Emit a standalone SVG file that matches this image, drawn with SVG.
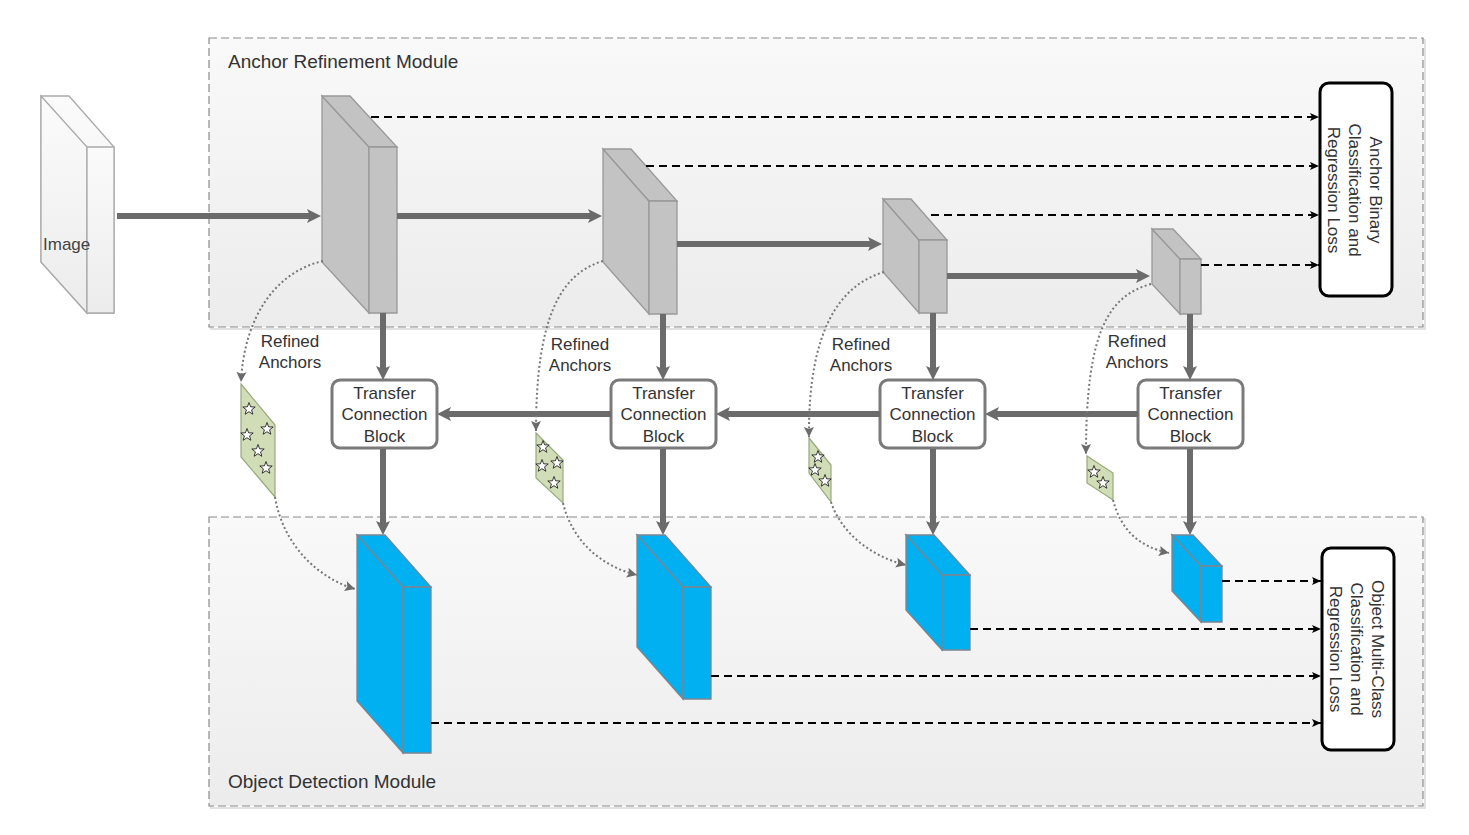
<svg xmlns="http://www.w3.org/2000/svg" width="1469" height="835" viewBox="0 0 1469 835">
<style>
text{font-family:"Liberation Sans",Arial,sans-serif;fill:#333}
.lbl{font-size:17px;text-anchor:middle}
.mod{font-size:19px}
.modbox{fill:url(#modg);stroke:#8a8a8a;stroke-width:1.2;stroke-dasharray:8 4}
.modshadow{fill:none;stroke:#e2e2e2;stroke-width:2}
.gray{fill:#c3c3c3;stroke:#999;stroke-width:1.3}
.blue{fill:#00b0f0;stroke:#7a8590;stroke-width:1.3}
.img{fill:url(#imgg);stroke:#aaa;stroke-width:1.3}
.tcb{fill:#fff;stroke:#7a7a7a;stroke-width:3}
.loss{fill:#fff;stroke:#000;stroke-width:3}
.anc{fill:#d0ddb6;stroke:#98a87e;stroke-width:1.2}
.star{fill:#fff;stroke:#222;stroke-width:0.9}
.thick{stroke:#6b6b6b;stroke-width:6;fill:none;marker-end:url(#ah)}
.dash{stroke:#000;stroke-width:2;stroke-dasharray:8 5;fill:none;marker-end:url(#ad)}
.dot{stroke:#777;stroke-width:2;stroke-dasharray:2 2.5;fill:none;marker-end:url(#ao)}
</style>
<defs>
<linearGradient id="modg" x1="0" y1="0" x2="0" y2="1"><stop offset="0" stop-color="#f9f9f9"/><stop offset="1" stop-color="#ececec"/></linearGradient>
<linearGradient id="imgg" x1="0" y1="0" x2="0" y2="1"><stop offset="0" stop-color="#fbfbfb"/><stop offset="1" stop-color="#ececec"/></linearGradient>
<marker id="ah" markerUnits="userSpaceOnUse" markerWidth="20" markerHeight="20" viewBox="0 0 20 20" refX="6" refY="10" orient="auto"><path d="M2,3 L16,10 L2,17 L5,10 Z" fill="#6b6b6b"/></marker>
<marker id="ad" markerUnits="userSpaceOnUse" markerWidth="12" markerHeight="12" viewBox="0 0 12 12" refX="10" refY="6" orient="auto"><path d="M1,2 L10,6 L1,10 L3,6 Z" fill="#000"/></marker>
<marker id="ao" markerUnits="userSpaceOnUse" markerWidth="14" markerHeight="14" viewBox="0 0 14 14" refX="12" refY="7" orient="auto"><path d="M2,2 L12,7 L2,12 L4,7 Z" fill="#6b6b6b"/></marker>
<path id="st" class="star" d="M0,-6.5 L1.6,-2.2 L6.2,-2 L2.6,0.85 L3.8,5.25 L0,2.7 L-3.8,5.25 L-2.6,0.85 L-6.2,-2 L-1.6,-2.2 Z"/>
</defs>

<g id="anchor-refinement-module">
<rect class="modshadow" x="211" y="40" width="1214" height="289"/>
<rect class="modbox" x="209" y="38" width="1214" height="289"/>
<text class="mod" x="228" y="68">Anchor Refinement Module</text>
</g>
<g id="object-detection-module">
<rect class="modshadow" x="211" y="519" width="1214" height="289"/>
<rect class="modbox" x="209" y="517" width="1214" height="289"/>
<text class="mod" x="228" y="788">Object Detection Module</text>
</g>

<g id="image">
<path class="img" d="M41,96 L69,96 L114,147 L114,313 L87,313 L41,262 Z"/>
<path class="img" d="M41,96 L87,147 L87,313 L41,262 Z"/>
<path class="img" d="M87,147 L114,147 L114,313 L87,313 Z"/>
<text x="43" y="250" style="font-size:17px;fill:#444">Image</text>
</g>

<g id="arm-block-1">
<path class="gray" d="M322,96 L369,147 L369,313 L322,262 Z"/>
<path class="gray" d="M322,96 L350,96 L397,147 L369,147 Z"/>
<path class="gray" d="M369,147 L397,147 L397,313 L369,313 Z"/>
</g>
<g id="arm-block-2">
<path class="gray" d="M603,149 L649,201 L649,314 L603,262 Z"/>
<path class="gray" d="M603,149 L631,149 L677,201 L649,201 Z"/>
<path class="gray" d="M649,201 L677,201 L677,314 L649,314 Z"/>
</g>
<g id="arm-block-3">
<path class="gray" d="M883,199 L919,240 L919,313 L883,272 Z"/>
<path class="gray" d="M883,199 L911,199 L947,240 L919,240 Z"/>
<path class="gray" d="M919,240 L947,240 L947,313 L919,313 Z"/>
</g>
<g id="arm-block-4">
<path class="gray" d="M1152,229 L1180,259 L1180,314 L1152,284 Z"/>
<path class="gray" d="M1152,229 L1173,229 L1201,259 L1180,259 Z"/>
<path class="gray" d="M1180,259 L1201,259 L1201,314 L1180,314 Z"/>
</g>

<g id="odm-block-1">
<path class="blue" d="M357,535 L403,587 L403,753 L357,701 Z"/>
<path class="blue" d="M357,535 L385,535 L431,587 L403,587 Z"/>
<path class="blue" d="M403,587 L431,587 L431,753 L403,753 Z"/>
</g>
<g id="odm-block-2">
<path class="blue" d="M637,535 L683,587 L683,699 L637,647 Z"/>
<path class="blue" d="M637,535 L665,535 L711,587 L683,587 Z"/>
<path class="blue" d="M683,587 L711,587 L711,699 L683,699 Z"/>
</g>
<g id="odm-block-3">
<path class="blue" d="M906,535 L942,575 L942,650 L906,610 Z"/>
<path class="blue" d="M906,535 L934,535 L970,575 L942,575 Z"/>
<path class="blue" d="M942,575 L970,575 L970,650 L942,650 Z"/>
</g>
<g id="odm-block-4">
<path class="blue" d="M1172,535 L1201,566 L1201,622 L1172,591 Z"/>
<path class="blue" d="M1172,535 L1193,535 L1222,566 L1201,566 Z"/>
<path class="blue" d="M1201,566 L1222,566 L1222,622 L1201,622 Z"/>
</g>

<g id="anchor-loss">
<rect class="loss" x="1320" y="83" width="72" height="213" rx="9"/>
<g transform="translate(1355,190) rotate(90)">
<text class="lbl" x="0" y="-15">Anchor Binary</text>
<text class="lbl" x="0" y="6">Classification and</text>
<text class="lbl" x="0" y="27">Regression Loss</text>
</g>
</g>
<g id="object-loss">
<rect class="loss" x="1322" y="548" width="72" height="202" rx="9"/>
<g transform="translate(1357,649) rotate(90)">
<text class="lbl" x="0" y="-15">Object Multi-Class</text>
<text class="lbl" x="0" y="6">Classification and</text>
<text class="lbl" x="0" y="27">Regression Loss</text>
</g>
</g>

<g id="tcb-1">
<rect class="tcb" x="332" y="380" width="105" height="68" rx="8"/>
<text class="lbl" x="384.5" y="399">Transfer</text>
<text class="lbl" x="384.5" y="420">Connection</text>
<text class="lbl" x="384.5" y="442">Block</text>
</g>
<g id="tcb-2">
<rect class="tcb" x="611" y="380" width="105" height="68" rx="8"/>
<text class="lbl" x="663.5" y="399">Transfer</text>
<text class="lbl" x="663.5" y="420">Connection</text>
<text class="lbl" x="663.5" y="442">Block</text>
</g>
<g id="tcb-3">
<rect class="tcb" x="880" y="380" width="105" height="68" rx="8"/>
<text class="lbl" x="932.5" y="399">Transfer</text>
<text class="lbl" x="932.5" y="420">Connection</text>
<text class="lbl" x="932.5" y="442">Block</text>
</g>
<g id="tcb-4">
<rect class="tcb" x="1138" y="380" width="105" height="68" rx="8"/>
<text class="lbl" x="1190.5" y="399">Transfer</text>
<text class="lbl" x="1190.5" y="420">Connection</text>
<text class="lbl" x="1190.5" y="442">Block</text>
</g>

<g id="anchors-1">
<path class="anc" d="M241,384 L275,425 L275,497 L241,457 Z"/>
<use href="#st" x="249" y="409"/><use href="#st" x="267" y="429"/><use href="#st" x="247" y="435"/><use href="#st" x="258" y="451"/><use href="#st" x="266" y="468"/>
<text class="lbl" x="290" y="347">Refined</text>
<text class="lbl" x="290" y="368">Anchors</text>
</g>
<g id="anchors-2">
<path class="anc" d="M536,433 L563,460 L563,503 L536,478 Z"/>
<use href="#st" x="543" y="447"/><use href="#st" x="542" y="466"/><use href="#st" x="557" y="463"/><use href="#st" x="554" y="483"/>
<text class="lbl" x="580" y="350">Refined</text>
<text class="lbl" x="580" y="371">Anchors</text>
</g>
<g id="anchors-3">
<path class="anc" d="M809,438 L831,465 L831,502 L809,473 Z"/>
<use href="#st" x="818" y="457"/><use href="#st" x="815" y="470"/><use href="#st" x="825" y="481"/>
<text class="lbl" x="861" y="350">Refined</text>
<text class="lbl" x="861" y="371">Anchors</text>
</g>
<g id="anchors-4">
<path class="anc" d="M1087,456 L1113,473 L1113,500 L1087,483 Z"/>
<use href="#st" x="1094" y="472"/><use href="#st" x="1103" y="483"/>
<text class="lbl" x="1137" y="347">Refined</text>
<text class="lbl" x="1137" y="368">Anchors</text>
</g>

<g id="connectors">
<line class="thick" x1="117" y1="216" x2="311" y2="216"/>
<line class="thick" x1="397" y1="216" x2="592" y2="216"/>
<line class="thick" x1="677" y1="244" x2="872" y2="244"/>
<line class="thick" x1="947" y1="276" x2="1140" y2="276"/>
<line class="thick" x1="383" y1="313" x2="383" y2="370"/>
<line class="thick" x1="663" y1="314" x2="663" y2="370"/>
<line class="thick" x1="933" y1="313" x2="933" y2="370"/>
<line class="thick" x1="1190" y1="314" x2="1190" y2="370"/>
<line class="thick" x1="1138" y1="414" x2="995" y2="414"/>
<line class="thick" x1="880" y1="414" x2="726" y2="414"/>
<line class="thick" x1="611" y1="414" x2="447" y2="414"/>
<line class="thick" x1="383" y1="449" x2="383" y2="525"/>
<line class="thick" x1="663" y1="449" x2="663" y2="525"/>
<line class="thick" x1="933" y1="449" x2="933" y2="525"/>
<line class="thick" x1="1190" y1="449" x2="1190" y2="525"/>

<line class="dash" x1="371" y1="117" x2="1319" y2="117"/>
<line class="dash" x1="646" y1="166" x2="1319" y2="166"/>
<line class="dash" x1="931" y1="215" x2="1319" y2="215"/>
<line class="dash" x1="1201" y1="265" x2="1319" y2="265"/>
<line class="dash" x1="1222" y1="581" x2="1321" y2="581"/>
<line class="dash" x1="970" y1="629" x2="1321" y2="629"/>
<line class="dash" x1="711" y1="676" x2="1321" y2="676"/>
<line class="dash" x1="431" y1="723" x2="1321" y2="723"/>

<path class="dot" d="M323,261 C275,272 244,318 241,382"/>
<path class="dot" d="M275,497 C283,545 318,578 355,589"/>
<path class="dot" d="M603,261 C560,274 536,318 536,431"/>
<path class="dot" d="M563,503 C572,540 600,566 637,575"/>
<path class="dot" d="M884,272 C840,285 808,330 809,437"/>
<path class="dot" d="M831,502 C840,530 868,556 906,565"/>
<path class="dot" d="M1151,284 C1108,296 1086,332 1086,454"/>
<path class="dot" d="M1113,500 C1120,526 1135,546 1169,553"/>
</g>
</svg>
